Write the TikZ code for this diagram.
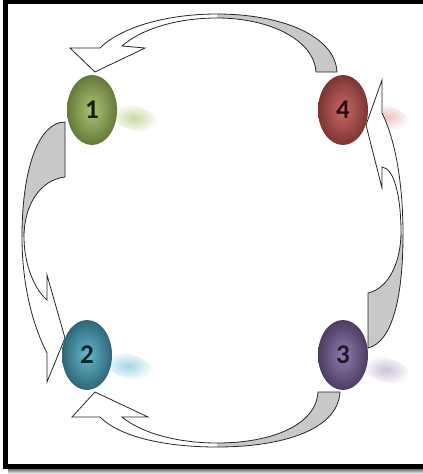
\documentclass[tikz,border=0pt]{standalone}
\usepackage{fontspec}
\setmainfont{Carlito}
\usetikzlibrary{shapes.geometric}
\definecolor{gA}{HTML}{9BBB59}
\definecolor{bA}{HTML}{4BACC6}
\definecolor{pA}{HTML}{8064A2}
\definecolor{rA}{HTML}{C0504D}
\definecolor{arrowgrey}{RGB}{200,200,200}
\tikzset{
  egg/.style={ellipse, minimum width=50pt, minimum height=70pt, inner sep=0pt,
    font=\bfseries\fontsize{27}{27}\selectfont},
  backside/.style={fill=arrowgrey},
  frontside/.style={fill=white},
  rim/.style={draw=black!85, line width=0.8pt, line join=miter},
  glow/.style={outer color=white}
}
\begin{document}
\begin{tikzpicture}[x=1pt,y=-1pt]
\useasboundingbox (0,0) rectangle (423,474);
% frame
\shade[top color=black!55, bottom color=white] (8,469) rectangle (423,474);
\fill[black] (3,0) rectangle (8,469);
\fill[black] (3,0) rectangle (423,4);
\fill[black] (3,464) rectangle (423,469);
% soft reflections
\shade[glow, inner color=gA!55] (134,118) ellipse [x radius=24, y radius=12, rotate=-15];
\shade[glow, inner color=bA!50] (128,366) ellipse [x radius=25, y radius=12, rotate=-15];
\shade[glow, inner color=pA!40] (386,370) ellipse [x radius=24, y radius=12, rotate=-15];
\shade[glow, inner color=rA!35] (387,117) ellipse [x radius=22, y radius=11, rotate=-15];
% top arrow (4 -> 1)
\path[backside] (337,72) .. controls (335,35) and (280,14) .. (217,14)
  -- (217,18) .. controls (270,18) and (314,40) .. (316,72) -- cycle;
\path[frontside] (217,14) .. controls (165,14) and (120,28) .. (100,48)
  -- (70,48) -- (95,72) -- (145,48) -- (122,46)
  .. controls (140,30) and (175,18) .. (217,18) -- cycle;
\path[rim] (337,72) .. controls (335,35) and (280,14) .. (217,14)
  .. controls (165,14) and (120,28) .. (100,48)
  -- (70,48) -- (95,72) -- (145,48) -- (122,46)
  .. controls (140,30) and (175,18) .. (217,18)
  .. controls (270,18) and (314,40) .. (316,72) -- cycle;
% left arrow (1 -> 2)
\path[backside] (65,122) .. controls (40,122) and (22,165) .. (22,237)
  -- (24,237) .. controls (24,205) and (40,180) .. (65,177) -- cycle;
\path[frontside] (22,237) .. controls (22,290) and (35,330) .. (47,353)
  -- (47,382) -- (65,338) -- (47,275) -- (47,300)
  .. controls (35,290) and (24,265) .. (24,237) -- cycle;
\path[rim] (65,122) .. controls (40,122) and (22,165) .. (22,237)
  .. controls (22,290) and (35,330) .. (47,353)
  -- (47,382) -- (65,338) -- (47,275) -- (47,300)
  .. controls (35,290) and (24,265) .. (24,237)
  .. controls (24,205) and (40,180) .. (65,177) -- cycle;
% bottom arrow (3 -> 2)
\path[backside] (340,392) .. controls (338,430) and (282,447) .. (217,447)
  -- (217,443) .. controls (272,443) and (316,425) .. (318,392) -- cycle;
\path[frontside] (217,447) .. controls (165,447) and (120,437) .. (100,417)
  -- (72,417) -- (95,392) -- (148,417) -- (122,417)
  .. controls (140,432) and (175,443) .. (217,443) -- cycle;
\path[rim] (340,392) .. controls (338,430) and (282,447) .. (217,447)
  .. controls (165,447) and (120,437) .. (100,417)
  -- (72,417) -- (95,392) -- (148,417) -- (122,417)
  .. controls (140,432) and (175,443) .. (217,443)
  .. controls (272,443) and (316,425) .. (318,392) -- cycle;
% right arrow (3 -> 4)
\path[backside] (368,348) .. controls (393,342) and (403,295) .. (403,235)
  -- (401,232) .. controls (401,260) and (390,288) .. (368,293) -- cycle;
\path[frontside] (403,235) .. controls (403,175) and (393,135) .. (382,113)
  -- (382,80) -- (366,125) -- (382,188) -- (382,167)
  .. controls (395,168) and (401,200) .. (401,232) -- cycle;
\path[rim] (368,348) .. controls (393,342) and (403,295) .. (403,235)
  .. controls (403,175) and (393,135) .. (382,113)
  -- (382,80) -- (366,125) -- (382,188) -- (382,167)
  .. controls (395,168) and (401,200) .. (401,232)
  .. controls (401,260) and (390,288) .. (368,293) -- cycle;
% eggs
\node[egg, inner color=gA!85!white, outer color=gA!65!black, text=gA!15!black] (e1) at (92,110) {1};
\node[egg, inner color=bA!85!white, outer color=bA!60!black, text=bA!20!black] (e2) at (87,355) {2};
\node[egg, inner color=pA!85!white, outer color=pA!60!black, text=pA!25!black] (e3) at (343,355) {3};
\node[egg, inner color=rA!85!white, outer color=rA!65!black, text=rA!20!black] (e4) at (343,110) {4};
\end{tikzpicture}
\end{document}
